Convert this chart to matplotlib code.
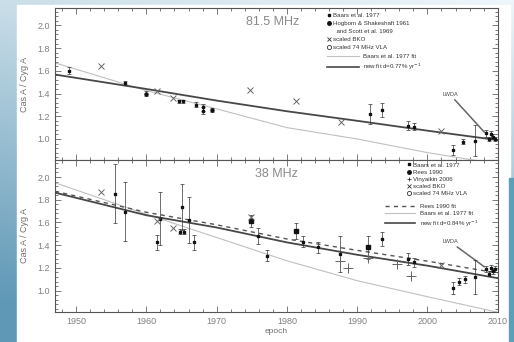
import numpy as np
import matplotlib
matplotlib.use("Agg")
import matplotlib.pyplot as plt
from matplotlib.patches import Rectangle
from matplotlib.lines import Line2D
from matplotlib.ticker import MultipleLocator

plt.rcParams['font.family'] = ['Liberation Sans', 'DejaVu Sans']

# ---- 81.5 MHz panel data ----
baars81_yr = [1949.0, 1957.0, 1964.7, 1965.2, 1967.0, 1968.1, 1968.1, 1991.8, 1993.6, 1997.3, 1998.1, 2003.6, 2005.1, 2006.8]
baars81_val = [1.60, 1.494, 1.33, 1.33, 1.303, 1.28, 1.25, 1.22, 1.256, 1.117, 1.108, 0.903, 0.976, 0.985]
baars81_err = [0.03, 0.02, 0.015, 0.015, 0.02, 0.03, 0.03, 0.09, 0.065, 0.04, 0.03, 0.047, 0.02, 0.135]
hogbom81_yr = [1960.0, 1969.3]
hogbom81_val = [1.40, 1.256]
hogbom81_err = [0.025, 0.02]
bko81_yr = [1953.5, 1961.5, 1963.8, 1974.7, 1981.3, 1987.7, 2002.0]
bko81_val = [1.638, 1.42, 1.358, 1.432, 1.338, 1.153, 1.067]
lwda81_yr = [2008.4, 2008.8, 2009.1, 2009.4, 2009.6]
lwda81_val = [1.05, 1.00, 1.04, 1.02, 1.00]
lwda81_err = [0.03, 0.02, 0.03, 0.02, 0.02]

# ---- 38 MHz panel data ----
baars38_yr = [1955.6, 1957.0, 1961.5, 1962.0, 1964.8, 1965.3, 1965.1, 1966.0, 1966.8, 1975.9,
              1977.2, 1982.3, 1984.4, 1987.5, 1993.6, 1997.3, 1998.1, 2003.6, 2004.5, 2005.3, 2006.8]
baars38_val = [1.854, 1.696, 1.424, 1.635, 1.52, 1.52, 1.737, 1.62, 1.424, 1.483,
               1.307, 1.43, 1.38, 1.32, 1.453, 1.278, 1.249, 1.024, 1.08, 1.10, 1.123]
baars38_err = [0.26, 0.26, 0.07, 0.23, 0.02, 0.02, 0.2, 0.2, 0.07, 0.07,
               0.05, 0.05, 0.05, 0.16, 0.06, 0.05, 0.04, 0.05, 0.03, 0.03, 0.15]
rees38_yr = [1974.9, 1981.3, 1991.6]
rees38_val = [1.614, 1.526, 1.38]
rees38_err = [0.05, 0.07, 0.1]
viny38_yr = [1987.5, 1988.7, 1991.6, 1995.6, 1997.6]
viny38_val = [1.263, 1.20, 1.29, 1.234, 1.132]
bko38_yr = [1953.5, 1961.5, 1963.8, 1974.9, 2002.0]
bko38_val = [1.872, 1.614, 1.55, 1.65, 1.228]
lwda38_yr = [2008.4, 2008.8, 2009.1, 2009.4, 2009.6]
lwda38_val = [1.19, 1.15, 1.20, 1.17, 1.19]
lwda38_err = [0.03, 0.02, 0.03, 0.02, 0.03]

# ---- fit curves ----
fit_yr = [1947, 1960, 1970, 1980, 1990, 2000, 2010]
newfit81 = [1.567, 1.44, 1.338, 1.244, 1.16, 1.073, 0.99]
baarsfit81 = [1.67, 1.426, 1.265, 1.10, 1.00, 0.88, 0.78]
newfit38 = [1.863, 1.664, 1.556, 1.425, 1.316, 1.22, 1.11]
reesfit38 = [1.875, 1.69, 1.58, 1.455, 1.355, 1.26, 1.155]
baarsfit38 = [1.95, 1.673, 1.468, 1.263, 1.088, 0.947, 0.81]

W, H = 514, 342
fig = plt.figure(figsize=(W / 100, H / 100), dpi=100)

# slide background gradient
bg = fig.add_axes([0, 0, 1, 1], zorder=-10)
yy, xx = np.mgrid[0:1:200j, 0:1:300j]
t = np.clip(yy * 0.85 + (1 - xx) * 0.25, 0, 1)
top = np.array([238, 246, 250]) / 255
bot = np.array([95, 152, 182]) / 255
img = top[None, None, :] * (1 - t[..., None]) + bot[None, None, :] * t[..., None]
bg.imshow(img, aspect='auto', extent=[0, 1, 0, 1], origin='upper')
bg.set_xlim(0, 1)
bg.set_ylim(0, 1)
bg.axis('off')
bg.add_patch(Rectangle((17 / W, 0), (510 - 17) / W, 1 - 5 / H, color='white', zorder=2))
bg.add_patch(Rectangle((509 / W, 0), 5 / W, 1 - 178 / H, color='#5d9fb8', zorder=3))

left, right = 55 / W, 497.7 / W
ax1 = fig.add_axes([left, 1 - 160 / H, right - left, (160 - 8.3) / H])
ax2 = fig.add_axes([left, 1 - 311.7 / H, right - left, (311.7 - 160) / H])

tick_col = '#808080'
for ax in (ax1, ax2):
    ax.set_xlim(1947, 2010)
    ax.set_ylim(0.815, 2.15)
    ax.xaxis.set_major_locator(MultipleLocator(10))
    ax.xaxis.set_minor_locator(MultipleLocator(2))
    ax.yaxis.set_major_locator(MultipleLocator(0.2))
    ax.yaxis.set_minor_locator(MultipleLocator(0.04))
    ax.tick_params(which='both', direction='in', top=True, right=True,
                   colors='#666666', labelcolor=tick_col, labelsize=6.5, width=0.6)
    ax.tick_params(which='major', length=4)
    ax.tick_params(which='minor', length=2)
    for s in ax.spines.values():
        s.set_color('#555555')
        s.set_linewidth(0.8)
    ax.set_ylabel('Cas A / Cyg A', fontsize=6.5, color='#707070', labelpad=6)
    ax.set_yticks([1.0, 1.2, 1.4, 1.6, 1.8, 2.0])
    ax.set_yticklabels(['1.0', '1.2', '1.4', '1.6', '1.8', '2.0'])

ax1.tick_params(labelbottom=False)
ax2.set_xticks([1950, 1960, 1970, 1980, 1990, 2000, 2010])
ax2.set_xlabel('epoch', fontsize=6, color='#707070', labelpad=2)

ekw = dict(fmt='none', ecolor='#333333', elinewidth=0.5, capsize=1.6, capthick=0.5, zorder=4)
mk = dict(ls='none', marker='s', ms=1.8, color='#111111', zorder=5)

# ---- top panel ----
ax1.plot(fit_yr, baarsfit81, color='#c0c0c0', lw=0.8, zorder=2)
ax1.plot(fit_yr, newfit81, color='#474747', lw=1.3, zorder=3)
ax1.errorbar(baars81_yr, baars81_val, yerr=baars81_err, **ekw)
ax1.plot(baars81_yr, baars81_val, **mk)
ax1.errorbar(hogbom81_yr, hogbom81_val, yerr=hogbom81_err, **ekw)
ax1.plot(hogbom81_yr, hogbom81_val, ls='none', marker='o', ms=2.2, color='#111111', zorder=5)
ax1.plot(bko81_yr, bko81_val, ls='none', marker='x', ms=4.5, mew=0.7, color='#666666', zorder=5)
ax1.errorbar(lwda81_yr, lwda81_val, yerr=lwda81_err, **ekw)
ax1.plot(lwda81_yr, lwda81_val, **mk)
ax1.annotate('LWDA', xy=(lwda81_yr[0] - 0.3, lwda81_val[0] + 0.01), xytext=(2003.2, 1.37),
             fontsize=4, color='#444444', ha='center', va='bottom',
             arrowprops=dict(arrowstyle='-', color='#666666', lw=1.1, shrinkA=0, shrinkB=0))
ax1.text(1978, 2.03, '81.5 MHz', fontsize=9, color='#8a8a8a', ha='center', va='center')

h81 = [Line2D([], [], ls='none', marker='s', ms=2, color='#111111'),
       Line2D([], [], ls='none', marker='o', ms=2.5, color='#111111'),
       Line2D([], [], ls='none', marker='none'),
       Line2D([], [], ls='none', marker='x', ms=2.5, mew=0.6, color='#333333'),
       Line2D([], [], ls='none', marker='o', ms=3, mfc='none', mew=0.6, color='#333333')]
l81 = ['Baars et al. 1977', 'Hogbom & Shakeshaft 1961', '  and Scott et al. 1969',
       'scaled BKO', 'scaled 74 MHz VLA']
leg = ax1.legend(h81, l81, loc='upper left', bbox_to_anchor=(0.615, 0.97), fontsize=4.4,
                 frameon=False, handlelength=0.6, handletextpad=0.4, labelspacing=0.45,
                 borderpad=0, borderaxespad=0, labelcolor='#333333')
ax1.add_artist(leg)
hl81 = [Line2D([], [], color='#c0c0c0', lw=0.8), Line2D([], [], color='#474747', lw=1.2)]
ax1.legend(hl81, ['Baars et al. 1977 fit', r'new fit d=0.77% yr$^{-1}$'], loc='upper left',
           bbox_to_anchor=(0.615, 0.70), fontsize=4.4, frameon=False, handlelength=5.2,
           handletextpad=0.7, labelspacing=0.45, borderpad=0, borderaxespad=0,
           labelcolor='#333333')

# ---- bottom panel ----
ax2.plot(fit_yr, baarsfit38, color='#c0c0c0', lw=0.8, zorder=2)
ax2.plot(fit_yr, reesfit38, color='#555555', lw=1.0, ls=(0, (3, 3)), zorder=3)
ax2.plot(fit_yr, newfit38, color='#474747', lw=1.3, zorder=3)
ax2.errorbar(baars38_yr, baars38_val, yerr=baars38_err, **ekw)
ax2.plot(baars38_yr, baars38_val, **mk)
ax2.errorbar(rees38_yr, rees38_val, yerr=rees38_err, **ekw)
ax2.plot(rees38_yr, rees38_val, ls='none', marker='s', ms=2.2, color='#111111', zorder=5)
ax2.plot(viny38_yr, viny38_val, ls='none', marker='+', ms=7, mew=0.7, color='#666666', zorder=5)
ax2.plot(bko38_yr, bko38_val, ls='none', marker='x', ms=4.5, mew=0.7, color='#666666', zorder=5)
ax2.errorbar(lwda38_yr, lwda38_val, yerr=lwda38_err, **ekw)
ax2.plot(lwda38_yr, lwda38_val, **mk)
ax2.annotate('LWDA', xy=(lwda38_yr[0] - 0.3, lwda38_val[0] + 0.02), xytext=(2003.2, 1.41),
             fontsize=4, color='#444444', ha='center', va='bottom',
             arrowprops=dict(arrowstyle='-', color='#666666', lw=1.1, shrinkA=0, shrinkB=0))
ax2.text(1978.5, 2.03, '38 MHz', fontsize=9, color='#8a8a8a', ha='center', va='center')

h38 = [Line2D([], [], ls='none', marker='s', ms=2, color='#111111'),
       Line2D([], [], ls='none', marker='o', ms=2.5, color='#111111'),
       Line2D([], [], ls='none', marker='+', ms=2.5, mew=0.6, color='#333333'),
       Line2D([], [], ls='none', marker='x', ms=2.5, mew=0.6, color='#333333'),
       Line2D([], [], ls='none', marker='o', ms=3, mfc='none', mew=0.6, color='#333333')]
l38 = ['Baars et al. 1977', 'Rees 1990', 'Vinyaikin 2006', 'scaled BKO', 'scaled 74 MHz VLA']
leg2 = ax2.legend(h38, l38, loc='upper left', bbox_to_anchor=(0.795, 0.985), fontsize=4.4,
                  frameon=False, handlelength=0.6, handletextpad=0.4, labelspacing=0.3,
                  borderpad=0, borderaxespad=0, labelcolor='#333333')
ax2.add_artist(leg2)
hl38 = [Line2D([], [], color='#555555', lw=1.0, ls=(0, (3, 3))),
        Line2D([], [], color='#c0c0c0', lw=0.8), Line2D([], [], color='#474747', lw=1.2)]
ax2.legend(hl38, ['Rees 1990 fit', 'Baars et al. 1977 fit', r'new fit d=0.84% yr$^{-1}$'],
           loc='upper left', bbox_to_anchor=(0.745, 0.71), fontsize=4.4, frameon=False,
           handlelength=5.0, handletextpad=0.7, labelspacing=0.3, borderpad=0,
           borderaxespad=0, labelcolor='#333333')

fig.savefig('out.png', dpi=100)
